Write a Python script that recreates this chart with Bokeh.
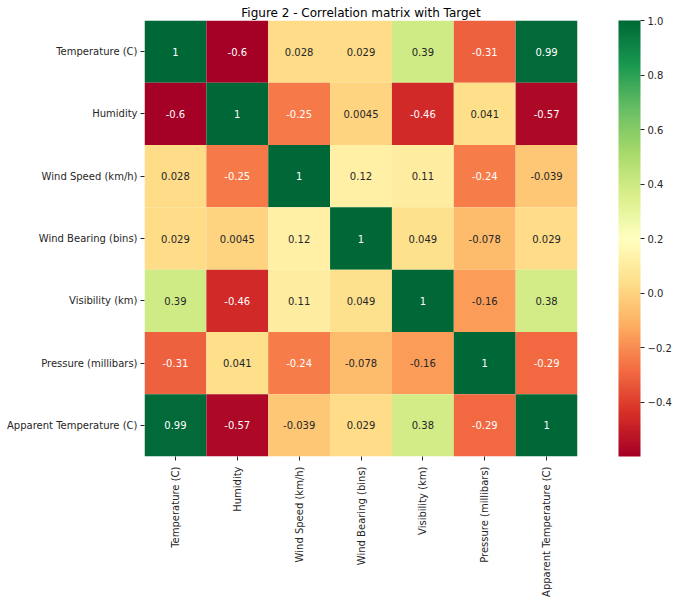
import math
import numpy as np
from bokeh.plotting import figure
from bokeh.models import (ColumnDataSource, LinearColorMapper, ColorBar, FixedTicker,
                          FactorRange, CustomJSTickFormatter)
from bokeh.core.properties import value
from bokeh.embed import file_html
from bokeh.resources import INLINE

# ---------------- data ----------------
variables = ["Temperature (C)", "Humidity", "Wind Speed (km/h)", "Wind Bearing (bins)",
             "Visibility (km)", "Pressure (millibars)", "Apparent Temperature (C)"]

row_temperature = [1, -0.6, 0.028, 0.029, 0.39, -0.31, 0.99]
row_humidity = [-0.6, 1, -0.25, 0.0045, -0.46, 0.041, -0.57]
row_wind_speed = [0.028, -0.25, 1, 0.12, 0.11, -0.24, -0.039]
row_wind_bearing = [0.029, 0.0045, 0.12, 1, 0.049, -0.078, 0.029]
row_visibility = [0.39, -0.46, 0.11, 0.049, 1, -0.16, 0.38]
row_pressure = [-0.31, 0.041, -0.24, -0.078, -0.16, 1, -0.29]
row_apparent = [0.99, -0.57, -0.039, 0.029, 0.38, -0.29, 1]

colorbar_ticks = [-0.4, -0.2, 0.0, 0.2, 0.4, 0.6, 0.8, 1.0]

rows = [row_temperature, row_humidity, row_wind_speed, row_wind_bearing,
        row_visibility, row_pressure, row_apparent]

# ---------------- palette (RdYlGn, 256 steps) ----------------
brewer = ["#a50026", "#d73027", "#f46d43", "#fdae61", "#fee08b", "#ffffbf",
          "#d9ef8b", "#a6d96a", "#66bd63", "#1a9850", "#006837"]
brgb = np.array([[int(c[i:i + 2], 16) for i in (1, 3, 5)] for c in brewer], dtype=float)
pos = np.linspace(0, 1, len(brewer))
t = np.linspace(0, 1, 256)
pal_rgb = np.stack([np.interp(t, pos, brgb[:, k]) for k in range(3)], axis=1)
palette = ["#%02x%02x%02x" % tuple(int(round(v)) for v in c) for c in pal_rgb]

vmin = min(min(r) for r in rows)
vmax = 1.0


def color_for(v):
    idx = int((v - vmin) / (vmax - vmin) * 256)
    idx = max(0, min(255, idx))
    return pal_rgb[idx]


def lum(rgb):
    c = np.array(rgb) / 255.0
    c = np.where(c <= 0.03928, c / 12.92, ((c + 0.055) / 1.055) ** 2.4)
    return 0.2126 * c[0] + 0.7152 * c[1] + 0.0722 * c[2]


xs, ys, vals, labels, tcolors = [], [], [], [], []
for i, r in enumerate(rows):
    for j, v in enumerate(r):
        xs.append(variables[j])
        ys.append(variables[i])
        vals.append(v)
        labels.append(format(v, ".2g"))
        tcolors.append("#262626" if lum(color_for(v)) > 0.408 else "#ffffff")

src = ColumnDataSource(dict(x=xs, y=ys, v=vals, label=labels, tc=tcolors))

mapper = LinearColorMapper(palette=palette, low=vmin, high=vmax)

p = figure(frame_width=433, frame_height=436, output_backend="svg", toolbar_location=None,
           x_range=FactorRange(*variables), y_range=FactorRange(*variables[::-1]),
           min_border_left=144, min_border_right=0, min_border_top=20, min_border_bottom=0)

p.rect(x="x", y="y", width=1, height=1, source=src,
       fill_color={"field": "v", "transform": mapper}, line_color=None)
p.text(x="x", y="y", text="label", source=src, text_color="tc",
       text_align="center", text_baseline="middle",
       text_font=value("DejaVu Sans"), text_font_size="10px")

p.title.text = "Figure 2 - Correlation matrix with Target"
p.title.align = "center"
p.title.text_font = "DejaVu Sans"
p.title.text_font_size = "12px"
p.title.text_font_style = "normal"
p.title.text_color = "#000000"
p.title.standoff = 2

p.grid.visible = False
p.outline_line_color = None
for ax in (p.xaxis[0], p.yaxis[0]):
    ax.axis_line_color = None
    ax.major_tick_in = 0
    ax.major_tick_out = 4
    ax.major_tick_line_color = "#262626"
    ax.major_label_text_font = "DejaVu Sans"
    ax.major_label_text_font_size = "10px"
    ax.major_label_text_color = "#262626"
    ax.major_label_standoff = 3
p.xaxis.major_label_orientation = math.pi / 2
p.xaxis.major_label_standoff = 6

cb = ColorBar(color_mapper=mapper, width=22, height=436, padding=0, margin=0,
              location=(41, 0),
              ticker=FixedTicker(ticks=colorbar_ticks),
              formatter=CustomJSTickFormatter(code="return tick.toFixed(1).replace('-', '\u2212');"),
              major_label_text_font="DejaVu Sans", major_label_text_font_size="10px",
              major_label_text_color="#262626",
              major_tick_in=0, major_tick_out=4, major_tick_line_color="#262626",
              minor_tick_line_color=None, bar_line_color=None,
              label_standoff=3, background_fill_color=None)
p.add_layout(cb, "right")

open("out.html", "w").write(file_html(p, INLINE))
